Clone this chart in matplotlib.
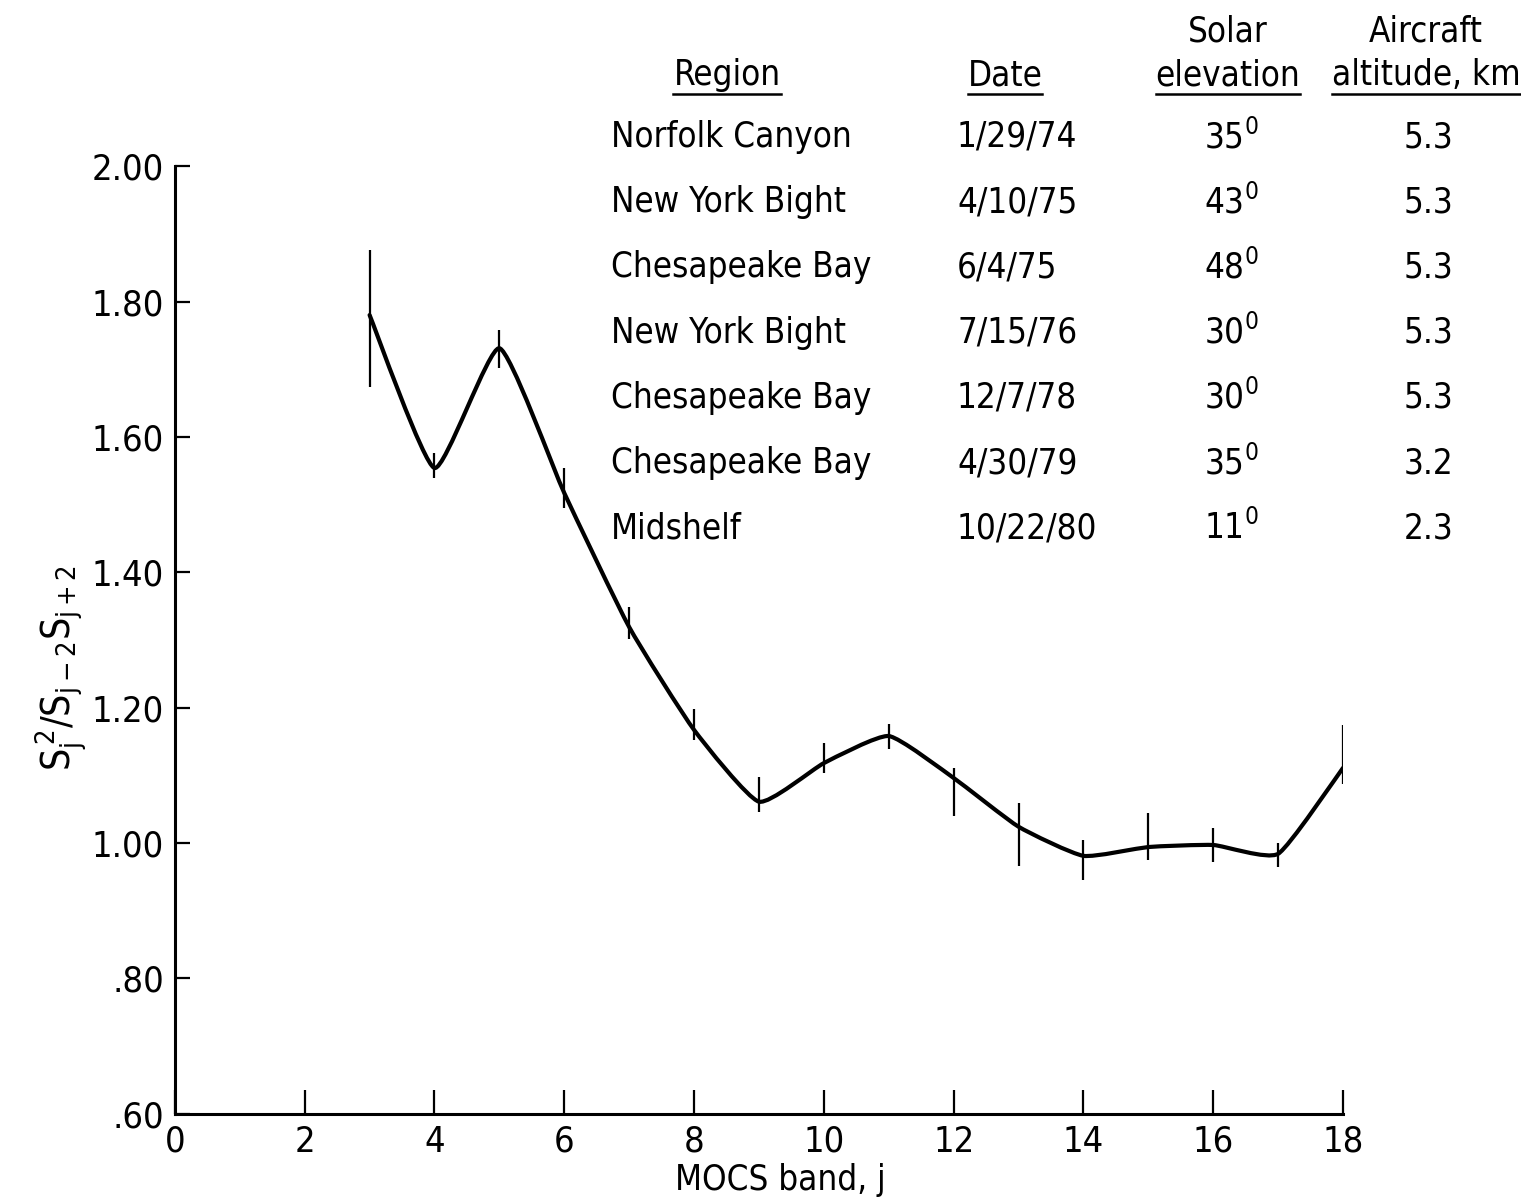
import matplotlib
matplotlib.use("Agg")
import matplotlib.pyplot as plt
from matplotlib.path import Path
from matplotlib.patches import PathPatch
from matplotlib.lines import Line2D
import numpy as np

# MOCS band data
bands = [3, 4, 5, 6, 7, 8, 9, 10, 11, 12, 13, 14, 15, 16, 17, 18]
ratio = [1.780, 1.554, 1.731, 1.517, 1.319, 1.167, 1.061, 1.118, 1.158,
         1.096, 1.024, 0.981, 0.994, 0.997, 0.984, 1.111]
err_lo = [1.674, 1.539, 1.702, 1.495, 1.302, 1.152, 1.046, 1.104, 1.139,
          1.040, 0.966, 0.946, 0.975, 0.972, 0.965, 1.087]
err_hi = [1.876, 1.576, 1.758, 1.554, 1.348, 1.198, 1.098, 1.148, 1.176,
          1.111, 1.059, 1.005, 1.045, 1.022, 1.000, 1.175]

x_ticks = [0, 2, 4, 6, 8, 10, 12, 14, 16, 18]
y_ticks = [0.60, 0.80, 1.00, 1.20, 1.40, 1.60, 1.80, 2.00]
y_tick_labels = [".60", ".80", "1.00", "1.20", "1.40", "1.60", "1.80", "2.00"]

# table of flights
regions = ["Norfolk Canyon", "New York Bight", "Chesapeake Bay", "New York Bight",
           "Chesapeake Bay", "Chesapeake Bay", "Midshelf"]
dates = ["1/29/74", "4/10/75", "6/4/75", "7/15/76", "12/7/78", "4/30/79", "10/22/80"]
elevations = ["35", "43", "48", "30", "30", "35", "11"]
altitudes = ["5.3", "5.3", "5.3", "5.3", "5.3", "3.2", "2.3"]

# condensed sans to mimic the old typewriter-ish lettering
plt.rcParams["font.family"] = ["DejaVu Sans"]
plt.rcParams["font.stretch"] = "condensed"
plt.rcParams["mathtext.fontset"] = "dejavusans"


def smooth_path(xs, ys, k=0.5):
    """Catmull-Rom style cubic Bezier through the points"""
    pts = np.column_stack([xs, ys]).astype(float)
    ext = np.vstack([pts[0], pts, pts[-1]])
    verts = [tuple(pts[0])]
    codes = [Path.MOVETO]
    for i in range(len(pts) - 1):
        p0, p1, p2, p3 = ext[i], ext[i + 1], ext[i + 2], ext[i + 3]
        c1 = p1 + (p2 - p0) / 6.0 * k
        c2 = p2 - (p3 - p1) / 6.0 * k
        verts += [tuple(c1), tuple(c2), tuple(p2)]
        codes += [Path.CURVE4] * 3
    return Path(verts, codes)


fig = plt.figure(figsize=(15.21, 12.04), dpi=100)
ax = fig.add_axes([0.115, 0.075, 0.768, 0.787])

ax.add_patch(PathPatch(smooth_path(bands, ratio), facecolor="none",
                       edgecolor="black", lw=3.0, capstyle="round", joinstyle="round"))
ax.vlines(bands, err_lo, err_hi, color="black", lw=1.6)

ax.set_xlim(0, 18)
ax.set_ylim(0.6, 2.0)
ax.set_xticks(x_ticks)
ax.set_xticklabels([str(t) for t in x_ticks])
ax.set_yticks(y_ticks)
ax.set_yticklabels(y_tick_labels)
for s in ["top", "right"]:
    ax.spines[s].set_visible(False)
for s in ["left", "bottom"]:
    ax.spines[s].set_linewidth(2.2)
ax.tick_params(axis="x", direction="in", length=17, width=1.6, labelsize=26, pad=8)
ax.tick_params(axis="y", direction="in", length=11, width=1.6, labelsize=26, pad=8)

ax.set_xlabel("MOCS band, j", fontsize=25, labelpad=4)
ax.xaxis.set_label_coords(0.518, -0.052)
ax.set_ylabel(r"$\mathregular{S_j^{\,2}/S_{j-2}S_{j+2}}$", fontsize=28)
ax.yaxis.set_label_coords(-0.073, 0.47)

# table in figure pixel coordinates (from top-left)
W, H = 1521, 1204
def fy(py):
    return 1 - py / H
def fx(px):
    return px / W

tsize = 25
headers = []
headers.append(fig.text(fx(727), fy(75), "Region", ha="center", va="center", fontsize=tsize))
headers.append(fig.text(fx(1005), fy(75), "Date", ha="center", va="center", fontsize=tsize))
fig.text(fx(1228), fy(32), "Solar", ha="center", va="center", fontsize=tsize)
headers.append(fig.text(fx(1228), fy(75), "elevation", ha="center", va="center", fontsize=tsize))
fig.text(fx(1426), fy(32), "Aircraft", ha="center", va="center", fontsize=tsize)
headers.append(fig.text(fx(1426), fy(75), "altitude, km", ha="center", va="center", fontsize=tsize))

row_y0, row_dy = 137, 65.2
for i in range(len(regions)):
    y = fy(row_y0 + i * row_dy)
    fig.text(fx(611), y, regions[i], ha="left", va="center", fontsize=tsize)
    fig.text(fx(957), y, dates[i], ha="left", va="center", fontsize=tsize)
    fig.text(fx(1204), y, r"$\mathregular{" + elevations[i] + "^0}$",
             ha="left", va="center", fontsize=tsize)
    fig.text(fx(1453), y, altitudes[i], ha="right", va="center", fontsize=tsize)

# underline the headers
fig.canvas.draw()
renderer = fig.canvas.get_renderer()
for t in headers:
    bb = t.get_window_extent(renderer)
    yline = bb.y0 - 2
    fig.add_artist(Line2D([bb.x0 / W, bb.x1 / W], [yline / H, yline / H],
                          transform=fig.transFigure, color="black", lw=1.8))

fig.savefig("out.png", dpi=100, facecolor="white")
